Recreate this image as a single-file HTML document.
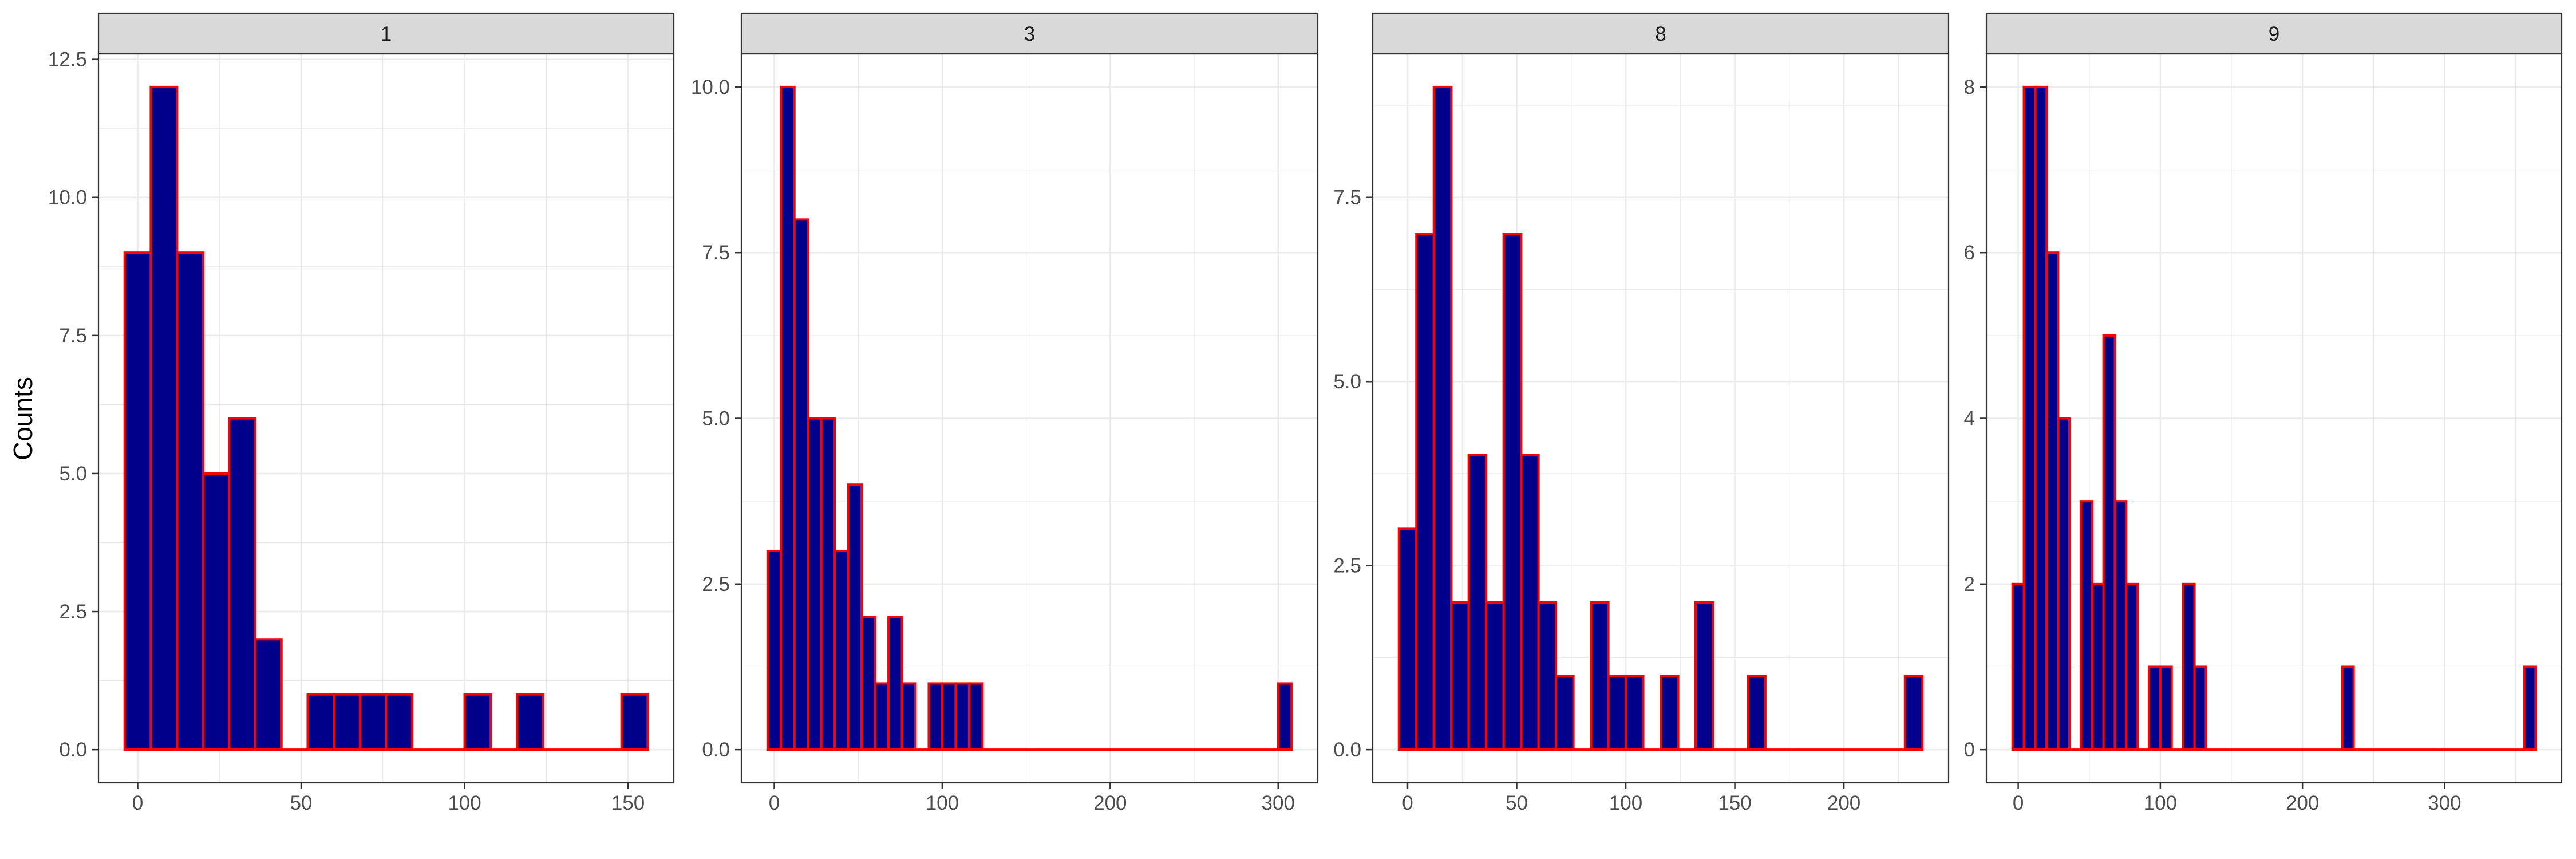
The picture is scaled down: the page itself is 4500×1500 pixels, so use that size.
<!DOCTYPE html>
<html><head><meta charset="utf-8">
<style>
html,body{margin:0;padding:0;background:#fff;}
svg{display:block;font-family:"Liberation Sans",Arial,sans-serif;}
</style></head>
<body>
<svg id="chart" xmlns="http://www.w3.org/2000/svg" width="4500" height="1500" viewBox="0 0 4500 1500">
<rect width="4500" height="1500" fill="#fff"/>
<text x="0" y="0" transform="translate(56,731) rotate(-90)" text-anchor="middle" font-size="46" fill="#000">Counts</text>
</svg>
<script>
// Data (bin centers start at 0, bin width 8)
const facetLabels = ["1", "3", "8", "9"];
const binWidth = 8;
const counts1 = [9,12,9,5,6,2,0,1,1,1,1,0,0,1,0,1,0,0,0,1];
const counts3 = [3,10,8,5,5,3,4,2,1,2,1,0,1,1,1,1,0,0,0,0,0,0,0,0,0,0,0,0,0,0,0,0,0,0,0,0,0,0,1];
const counts8 = [3,7,9,2,4,2,7,4,2,1,0,2,1,1,0,1,0,2,0,0,1,0,0,0,0,0,0,0,0,1];
const counts9 = [2,8,8,6,4,0,3,2,5,3,2,0,1,1,0,2,1,0,0,0,0,0,0,0,0,0,0,0,0,1,0,0,0,0,0,0,0,0,0,0,0,0,0,0,0,1];
const xTicks1 = [0,50,100,150];
const xTicks3 = [0,100,200,300];
const xTicks8 = [0,50,100,150,200];
const xTicks9 = [0,100,200,300];
const yTicks1 = [0,2.5,5,7.5,10,12.5];
const yTicks3 = [0,2.5,5,7.5,10];
const yTicks8 = [0,2.5,5,7.5];
const yTicks9 = [0,2,4,6,8];
const yLabels1 = ["0.0","2.5","5.0","7.5","10.0","12.5"];
const yLabels3 = ["0.0","2.5","5.0","7.5","10.0"];
const yLabels8 = ["0.0","2.5","5.0","7.5"];
const yLabels9 = ["0","2","4","6","8"];

const NS = "http://www.w3.org/2000/svg";
const svgEl = document.getElementById("chart");
function mk(tag, attrs, parent){
  const e = document.createElementNS(NS, tag);
  for (const k in attrs) e.setAttribute(k, attrs[k]);
  (parent||svgEl).appendChild(e);
  return e;
}
const panelsLayout = [
  {left:172, right:1177},
  {left:1295, right:2302},
  {left:2398, right:3404},
  {left:3470, right:4475}
];
const facets = [
  {counts:counts1, xt:xTicks1, yt:yTicks1, yl:yLabels1, xminor:25, yminor:1.25},
  {counts:counts3, xt:xTicks3, yt:yTicks3, yl:yLabels3, xminor:50, yminor:1.25},
  {counts:counts8, xt:xTicks8, yt:yTicks8, yl:yLabels8, xminor:25, yminor:1.25},
  {counts:counts9, xt:xTicks9, yt:yTicks9, yl:yLabels9, xminor:50, yminor:1}
];
const plotTop = 94, plotBottom = 1367, stripTop = 23;

facets.forEach((f, i) => {
  const L = panelsLayout[i].left, R = panelsLayout[i].right;
  const n = f.counts.length;
  const dmin = -binWidth/2, dmax = (n-1)*binWidth + binWidth/2;
  const xpad = (dmax-dmin)*0.05;
  const x0 = dmin - xpad, x1 = dmax + xpad;
  const ymax = Math.max(...f.counts);
  const y0 = -ymax*0.05, y1 = ymax*1.05;
  const X = v => L + (v - x0)/(x1 - x0)*(R - L);
  const Y = v => plotBottom - (v - y0)/(y1 - y0)*(plotBottom - plotTop);

  const g = mk("g", {});
  
  

  for (let v = Math.ceil(x0/f.xminor)*f.xminor; v <= x1; v += f.xminor) {
    if (f.xt.some(t => Math.abs(t - v) < 1e-9)) continue;
    const l = mk("line", {x1:X(v), x2:X(v), y1:plotTop, y2:plotBottom, stroke:"#ebebeb", "stroke-width":1.3}, g);
    
    
  }
  for (let v = Math.ceil(y0/f.yminor)*f.yminor; v <= y1; v += f.yminor) {
    if (f.yt.some(t => Math.abs(t - v) < 1e-9)) continue;
    const l = mk("line", {x1:L, x2:R, y1:Y(v), y2:Y(v), stroke:"#ebebeb", "stroke-width":1.3}, g);
    
    
  }
  f.xt.forEach(t => {
    const l = mk("line", {x1:X(t), x2:X(t), y1:plotTop, y2:plotBottom, stroke:"#ebebeb", "stroke-width":2.6}, g);
    
    
  });
  f.yt.forEach(t => {
    const l = mk("line", {x1:L, x2:R, y1:Y(t), y2:Y(t), stroke:"#ebebeb", "stroke-width":2.6}, g);
    
    
  });
  f.counts.forEach((c, k) => {
    const cx = k*binWidth;
    const xa = X(cx - binWidth/2), xb = X(cx + binWidth/2);
    if (c > 0) {
      const r = mk("rect", {x:xa, y:Y(c), width:xb-xa, height:Y(0)-Y(c), fill:"#00008B", stroke:"#FF0000", "stroke-width":4}, g);
      
      
    }
  });
  const base = mk("line", {x1:X(dmin), x2:X(dmax), y1:Y(0), y2:Y(0), stroke:"#FF0000", "stroke-width":4}, g);
  
  
  const pb = mk("rect", {x:L, y:plotTop, width:R-L, height:plotBottom-plotTop, fill:"none", stroke:"#333333", "stroke-width":2.2}, g);
  
  
  const st = mk("rect", {x:L, y:stripTop, width:R-L, height:plotTop-stripTop, fill:"#d9d9d9", stroke:"#333333", "stroke-width":2.2}, g);
  
  
  const stt = mk("text", {x:(L+R)/2, y:71, "text-anchor":"middle", "font-size":35, fill:"#1a1a1a"}, g);
  stt.textContent = facetLabels[i];
  
  
  f.yt.forEach((t, k) => {
    const tk = mk("line", {x1:L-11, x2:L, y1:Y(t), y2:Y(t), stroke:"#333333", "stroke-width":2.5}, g);
    
    
    const tx = mk("text", {x:L-20, y:Y(t)+12, "text-anchor":"end", "font-size":35, fill:"#4d4d4d"}, g);
    tx.textContent = f.yl[k];
    
    
  });
  f.xt.forEach(t => {
    const tk = mk("line", {x1:X(t), x2:X(t), y1:plotBottom, y2:plotBottom+11, stroke:"#333333", "stroke-width":2.5}, g);
    
    
    const tx = mk("text", {x:X(t), y:1414, "text-anchor":"middle", "font-size":35, fill:"#4d4d4d"}, g);
    tx.textContent = String(t);
    
    
  });
});
</script>
</body></html>
